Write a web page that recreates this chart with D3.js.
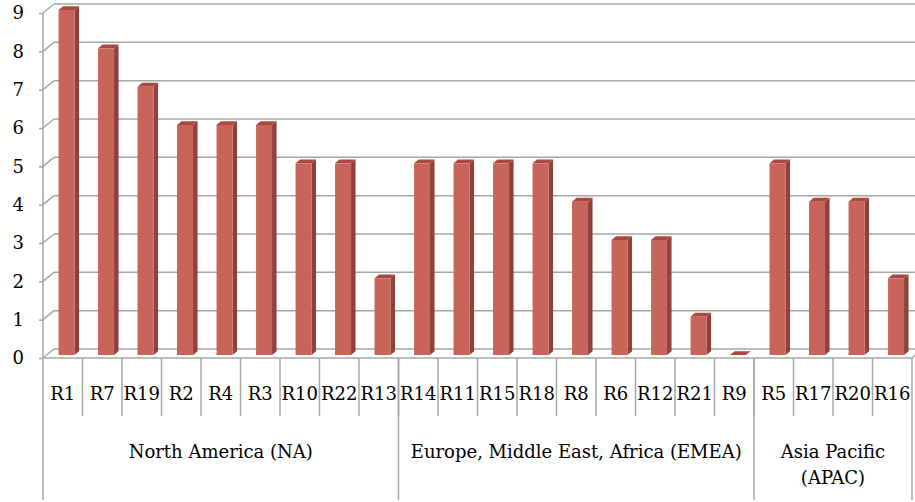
<!DOCTYPE html>
<html>
<head>
<meta charset="utf-8">
<script src="https://cdn.jsdelivr.net/npm/d3@7"></script>
<style>
  body { margin: 0; background: #fff; }
  text { font-family: "DejaVu Serif", serif; fill: #000; }
</style>
</head>
<body>
<div id="chart"></div>
<script>
// data
const categories = ["R1","R7","R19","R2","R4","R3","R10","R22","R13",
  "R14","R11","R15","R18","R8","R6","R12","R21","R9",
  "R5","R17","R20","R16"];
const values = [9,8,7,6,6,6,5,5,2, 5,5,5,5,4,3,3,1,0, 5,4,4,2];
const regionNames = [["North America (NA)"], ["Europe, Middle East, Africa (EMEA)"], ["Asia Pacific", "(APAC)"]];
const regionSizes = [9, 9, 4];
const yTicks = [0,1,2,3,4,5,6,7,8,9];

const W = 915, H = 502;
const depth = {dx: 11, dy: -9};     // floor depth (front -> back wall)
const barOff = {dx: 3.7, dy: -3};   // bar front face offset from front plane
const barDepth = {dx: 4.5, dy: -3.8};
const gridCol = "#a6a6a6";

const svg = d3.select("#chart").append("svg")
  .attr("width", W).attr("height", H);

const x = d3.scaleBand().domain(categories).range([43, 912]).padding(0);
const y = d3.scaleLinear().domain([0, 9]).range([358, 13]);

//// back wall gridlines + left wall diagonals
const grid = svg.append("g");
grid.selectAll(".gl").data(yTicks).enter().append("line")
  .attr("x1", x.range()[0] + depth.dx).attr("x2", W)
  .attr("y1", d => y(d) + depth.dy).attr("y2", d => y(d) + depth.dy)
  .attr("stroke", gridCol).attr("stroke-width", 1.5);
grid.selectAll(".dg").data(yTicks).enter().append("line")
  .attr("x1", x.range()[0]).attr("x2", x.range()[0] + depth.dx)
  .attr("y1", d => y(d)).attr("y2", d => y(d) + depth.dy)
  .attr("stroke", gridCol).attr("stroke-width", 1.5);
// right floor edge
grid.append("line")
  .attr("x1", x.range()[1]).attr("x2", x.range()[1] + depth.dx)
  .attr("y1", y(0)).attr("y2", y(0) + depth.dy)
  .attr("stroke", gridCol).attr("stroke-width", 1.5);

//// bars
const bw = x.bandwidth() * 0.405;
const bars = svg.append("g").selectAll("g").data(categories).enter().append("g");
function fx(d) { return x(d) + x.bandwidth() * 0.3 + barOff.dx; }
function ftop(i) { return y(values[i]) + barOff.dy; }
const fbot = y(0) + barOff.dy;

// side face
bars.append("path")
  .attr("d", (d, i) => {
    const x1 = fx(d) + bw, t = ftop(i);
    return `M${x1},${t}L${x1 + barDepth.dx},${t + barDepth.dy}L${x1 + barDepth.dx},${fbot + barDepth.dy}L${x1},${fbot}Z`;
  })
  .attr("fill", "#8f4038");
// top face
bars.append("path")
  .attr("d", (d, i) => {
    const x0 = fx(d), t = ftop(i);
    return `M${x0},${t}L${x0 + bw},${t}L${x0 + bw + barDepth.dx},${t + barDepth.dy}L${x0 + barDepth.dx},${t + barDepth.dy}Z`;
  })
  .attr("fill", "#a9483f");
// front face
bars.append("rect")
  .attr("x", d => fx(d))
  .attr("y", (d, i) => ftop(i))
  .attr("width", bw)
  .attr("height", (d, i) => fbot - ftop(i))
  .attr("fill", "#c9645a");

//// y axis (front plane)
const yAxis = svg.append("g")
  .attr("transform", `translate(${x.range()[0]},0)`)
  .call(d3.axisLeft(y).tickValues(yTicks).tickSize(4).tickPadding(15).tickFormat(d3.format("d")));
yAxis.select(".domain").remove();
yAxis.selectAll("line").attr("stroke", gridCol).attr("stroke-width", 1.5);
yAxis.selectAll("text").style("font-size", "18px").style("font-family", "DejaVu Serif");
svg.append("line")
  .attr("x1", x.range()[0]).attr("x2", x.range()[0])
  .attr("y1", y(9)).attr("y2", 500)
  .attr("stroke", gridCol).attr("stroke-width", 1.5);

//// category axis (front floor edge)
svg.append("line")
  .attr("x1", x.range()[0]).attr("x2", x.range()[1])
  .attr("y1", y(0)).attr("y2", y(0))
  .attr("stroke", gridCol).attr("stroke-width", 1.5);

const catAxis = svg.append("g");
catAxis.selectAll("line").data(categories.slice(1)).enter().append("line")
  .attr("x1", d => x(d)).attr("x2", d => x(d))
  .attr("y1", y(0)).attr("y2", 416)
  .attr("stroke", gridCol).attr("stroke-width", 1.5);
catAxis.selectAll("text").data(categories).enter().append("text")
  .attr("x", d => x(d) + x.bandwidth() / 2)
  .attr("y", 400)
  .attr("text-anchor", "middle")
  .style("font-size", "18px")
  .text(d => d);

// region groups
let start = 0;
const regionBounds = regionSizes.map(n => {
  const b = [start, start + n];
  start += n;
  return b;
});
const grp = svg.append("g");
grp.selectAll("line").data(regionBounds).enter().append("line")
  .attr("x1", d => x(categories[d[1] - 1]) + x.bandwidth())
  .attr("x2", d => x(categories[d[1] - 1]) + x.bandwidth())
  .attr("y1", y(0)).attr("y2", 500)
  .attr("stroke", gridCol).attr("stroke-width", 1.5);
grp.selectAll("text").data(regionBounds).enter().append("text")
  .attr("x", d => (x(categories[d[0]]) + x(categories[d[1] - 1]) + x.bandwidth()) / 2)
  .attr("y", (d, i) => regionNames[i].length > 1 ? 458 : 458)
  .attr("text-anchor", "middle")
  .style("font-size", "18px")
  .each(function(d, i) {
    const t = d3.select(this);
    regionNames[i].forEach((line, k) => {
      t.append("tspan")
        .attr("x", t.attr("x"))
        .attr("dy", k === 0 ? 0 : 26)
        .text(line);
    });
  });
</script>
</body>
</html>
